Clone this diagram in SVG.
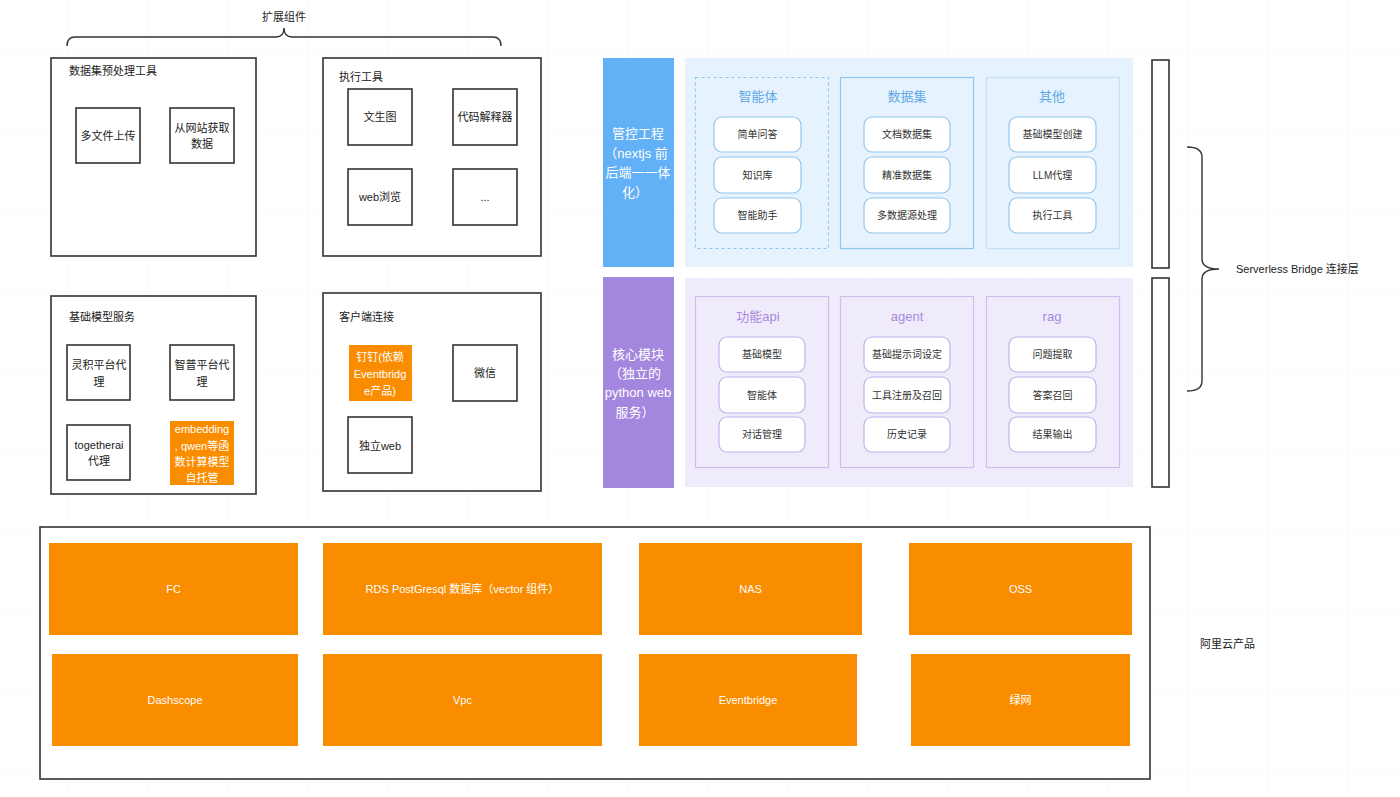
<svg xmlns="http://www.w3.org/2000/svg" width="1400" height="797" viewBox="0 0 1400 797">
<defs>
<pattern id="grid" x="68.5" y="50.5" width="80" height="80" patternUnits="userSpaceOnUse">
<path d="M0,0 H80 M0,0 V80" fill="none" stroke="#f1f1f1" stroke-width="1"/>
</pattern>
<style>
text{font-family:"Liberation Sans","Noto Sans CJK SC",sans-serif;fill:#222;}
.box{fill:#fff;stroke:#333;stroke-width:1.6;}
.t11{font-size:11px;}
.mid{text-anchor:middle;dominant-baseline:central;}
.orange{fill:#fa8c00;}
.wt{fill:#fff;font-size:11px;text-anchor:middle;dominant-baseline:central;}
.bar{fill:#fff;font-size:13px;text-anchor:middle;dominant-baseline:central;}
.bpanel{fill:#e6f2fd;}
.ppanel{fill:#efebfa;}
.bgrp{fill:none;stroke:#93c7ef;stroke-width:1.2;}
.pgrp{fill:none;stroke:#cdbfee;stroke-width:1.2;}
.bitem{fill:#fff;stroke:#93c5ee;stroke-width:1.2;}
.pitem{fill:#fff;stroke:#c3b2ec;stroke-width:1.2;}
.btitle{fill:#5ea9ea;font-size:13px;text-anchor:middle;dominant-baseline:central;}
.ptitle{fill:#a68ae0;font-size:13px;text-anchor:middle;dominant-baseline:central;}
.it{fill:#333;font-size:10px;text-anchor:middle;dominant-baseline:central;}
.brace{fill:none;stroke:#333;stroke-width:1.4;}
</style>
</defs>
<rect width="1400" height="797" fill="#fff"/>
<rect width="1400" height="797" fill="url(#grid)"/>

<g id="connectors">
<path class="brace" d="M67,46 Q67,37 75,37 L276,37 Q284,37 284,28 Q284,37 292,37 L493,37 Q501,37 501,46"/>
<path class="brace" d="M1187,147 Q1202,147 1202,157 L1202,259 Q1202,269 1219,269 Q1202,269 1202,279 L1202,381 Q1202,391 1187,391"/>
</g>

<g id="label-ext"><text class="t11 mid" x="284" y="17">扩展组件</text></g>

<g id="dataset-tools">
<rect class="box" x="51" y="58" width="205" height="198"/>
<text class="t11" x="69" y="75">数据集预处理工具</text>
<rect class="box" x="76" y="108" width="64" height="55"/>
<text class="t11 mid" x="108" y="135.5">多文件上传</text>
<rect class="box" x="170" y="108" width="64" height="55"/>
<text class="t11 mid" x="202" y="127.5">从网站获取</text>
<text class="t11 mid" x="202" y="144">数据</text>
</g>

<g id="exec-tools">
<rect class="box" x="323" y="58" width="218" height="198"/>
<text class="t11" x="339" y="81">执行工具</text>
<rect class="box" x="348" y="89" width="64" height="56"/>
<text class="t11 mid" x="380" y="117">文生图</text>
<rect class="box" x="453" y="89" width="64" height="56"/>
<text class="t11 mid" x="485" y="117">代码解释器</text>
<rect class="box" x="348" y="169" width="64" height="56"/>
<text class="t11 mid" x="380" y="197">web浏览</text>
<rect class="box" x="453" y="169" width="64" height="56"/>
<text class="t11 mid" x="485" y="197">...</text>
</g>

<g id="model-service">
<rect class="box" x="51" y="296" width="205" height="198"/>
<text class="t11" x="69" y="321">基础模型服务</text>
<rect class="box" x="67" y="345" width="63" height="55"/>
<text class="t11 mid" x="99" y="365">灵积平台代</text>
<text class="t11 mid" x="99" y="382">理</text>
<rect class="box" x="170" y="345" width="64" height="55"/>
<text class="t11 mid" x="202" y="365">智普平台代</text>
<text class="t11 mid" x="202" y="382">理</text>
<rect class="box" x="67" y="425" width="63" height="55"/>
<text class="t11 mid" x="99" y="445">togetherai</text>
<text class="t11 mid" x="99" y="461">代理</text>
<rect class="orange" x="170" y="421" width="64" height="64"/>
<text class="wt" x="202" y="429">embedding</text>
<text class="wt" x="202" y="446">, qwen等函</text>
<text class="wt" x="202" y="462">数计算模型</text>
<text class="wt" x="202" y="478">自托管</text>
</g>

<g id="client-conn">
<rect class="box" x="323" y="293" width="218" height="198"/>
<text class="t11" x="339" y="321">客户端连接</text>
<rect class="orange" x="349" y="345" width="63" height="56"/>
<text class="wt" x="380" y="357">钉钉(依赖</text>
<text class="wt" x="380" y="374">Eventbridg</text>
<text class="wt" x="380" y="391">e产品)</text>
<rect class="box" x="453" y="345" width="64" height="56"/>
<text class="t11 mid" x="485" y="373">微信</text>
<rect class="box" x="348" y="417" width="64" height="56"/>
<text class="t11 mid" x="380" y="446">独立web</text>
</g>

<g id="control">
<rect x="603" y="58" width="71" height="209" fill="#62b0f6"/>
<text class="bar" x="638" y="133">管控工程</text>
<text class="bar" x="636" y="153">（nextjs 前</text>
<text class="bar" x="638" y="172.5">后端一一体</text>
<text class="bar" x="635" y="192">化）</text>
<rect class="bpanel" x="685" y="58" width="448" height="209"/>
<rect class="bgrp" x="695.5" y="77.5" width="133" height="171" stroke-dasharray="3,3"/>
<text class="btitle" x="758" y="96">智能体</text>
<rect class="bitem" x="714" y="117" width="87" height="35" rx="8"/>
<text class="it" x="757.5" y="134.5">简单问答</text>
<rect class="bitem" x="714" y="157" width="87" height="36" rx="8"/>
<text class="it" x="757.5" y="175">知识库</text>
<rect class="bitem" x="714" y="198" width="87" height="35" rx="8"/>
<text class="it" x="757.5" y="215.5">智能助手</text>
<rect class="bgrp" x="840.5" y="77.5" width="133" height="171"/>
<text class="btitle" x="907" y="96">数据集</text>
<rect class="bitem" x="864" y="117" width="86" height="35" rx="8"/>
<text class="it" x="907" y="134.5">文档数据集</text>
<rect class="bitem" x="864" y="157" width="86" height="36" rx="8"/>
<text class="it" x="907" y="175">精准数据集</text>
<rect class="bitem" x="864" y="198" width="86" height="35" rx="8"/>
<text class="it" x="907" y="215.5">多数据源处理</text>
<rect x="986.5" y="77.5" width="133" height="171" fill="none" stroke="#c6e0f6" stroke-width="1.2"/>
<text class="btitle" x="1052" y="96">其他</text>
<rect class="bitem" x="1009" y="117" width="87" height="35" rx="8"/>
<text class="it" x="1052.5" y="134.5">基础模型创建</text>
<rect class="bitem" x="1009" y="157" width="87" height="36" rx="8"/>
<text class="it" x="1052.5" y="175">LLM代理</text>
<rect class="bitem" x="1009" y="198" width="87" height="35" rx="8"/>
<text class="it" x="1052.5" y="215.5">执行工具</text>
</g>

<g id="core">
<rect x="603" y="277" width="71" height="211" fill="#a386de"/>
<text class="bar" x="638" y="354">核心模块</text>
<text class="bar" x="635" y="373">（独立的</text>
<text class="bar" x="638" y="392.5">python web</text>
<text class="bar" x="635" y="412">服务）</text>
<rect class="ppanel" x="685" y="278" width="448" height="209"/>
<rect class="pgrp" x="695.5" y="296.5" width="133" height="171"/>
<text class="ptitle" x="758" y="316">功能api</text>
<rect class="pitem" x="719" y="337" width="86" height="35" rx="8"/>
<text class="it" x="762" y="354.5">基础模型</text>
<rect class="pitem" x="719" y="377" width="86" height="36" rx="8"/>
<text class="it" x="762" y="395">智能体</text>
<rect class="pitem" x="719" y="417" width="86" height="35" rx="8"/>
<text class="it" x="762" y="434.5">对话管理</text>
<rect class="pgrp" x="840.5" y="296.5" width="133" height="171"/>
<text class="ptitle" x="907" y="316">agent</text>
<rect class="pitem" x="864" y="337" width="86" height="35" rx="8"/>
<text class="it" x="907" y="354.5">基础提示词设定</text>
<rect class="pitem" x="864" y="377" width="86" height="36" rx="8"/>
<text class="it" x="907" y="395">工具注册及召回</text>
<rect class="pitem" x="864" y="417" width="86" height="35" rx="8"/>
<text class="it" x="907" y="434.5">历史记录</text>
<rect class="pgrp" x="986.5" y="296.5" width="133" height="171"/>
<text class="ptitle" x="1052" y="316">rag</text>
<rect class="pitem" x="1009" y="337" width="87" height="35" rx="8"/>
<text class="it" x="1052.5" y="354.5">问题提取</text>
<rect class="pitem" x="1009" y="377" width="87" height="36" rx="8"/>
<text class="it" x="1052.5" y="395">答案召回</text>
<rect class="pitem" x="1009" y="417" width="87" height="35" rx="8"/>
<text class="it" x="1052.5" y="434.5">结果输出</text>
</g>

<g id="bridge">
<rect class="box" x="1152" y="60" width="17" height="208"/>
<rect class="box" x="1152" y="278" width="17" height="209"/>
<text class="t11" x="1236" y="269" dominant-baseline="central">Serverless Bridge 连接层</text>
</g>

<g id="aliyun">
<rect class="box" x="40" y="527" width="1110" height="252"/>
<rect class="orange" x="49" y="543" width="249" height="92"/>
<text class="wt" x="173.5" y="589">FC</text>
<rect class="orange" x="323" y="543" width="279" height="92"/>
<text class="wt" x="462.5" y="589">RDS PostGresql 数据库（vector 组件）</text>
<rect class="orange" x="639" y="543" width="223" height="92"/>
<text class="wt" x="750.5" y="589">NAS</text>
<rect class="orange" x="909" y="543" width="223" height="92"/>
<text class="wt" x="1020.5" y="589">OSS</text>
<rect class="orange" x="52" y="654" width="246" height="92"/>
<text class="wt" x="175" y="700">Dashscope</text>
<rect class="orange" x="323" y="654" width="279" height="92"/>
<text class="wt" x="462.5" y="700">Vpc</text>
<rect class="orange" x="639" y="654" width="218" height="92"/>
<text class="wt" x="748" y="700">Eventbridge</text>
<rect class="orange" x="911" y="654" width="219" height="92"/>
<text class="wt" x="1020.5" y="700">绿网</text>
<text class="t11" x="1200" y="644" dominant-baseline="central">阿里云产品</text>
</g>
</svg>
